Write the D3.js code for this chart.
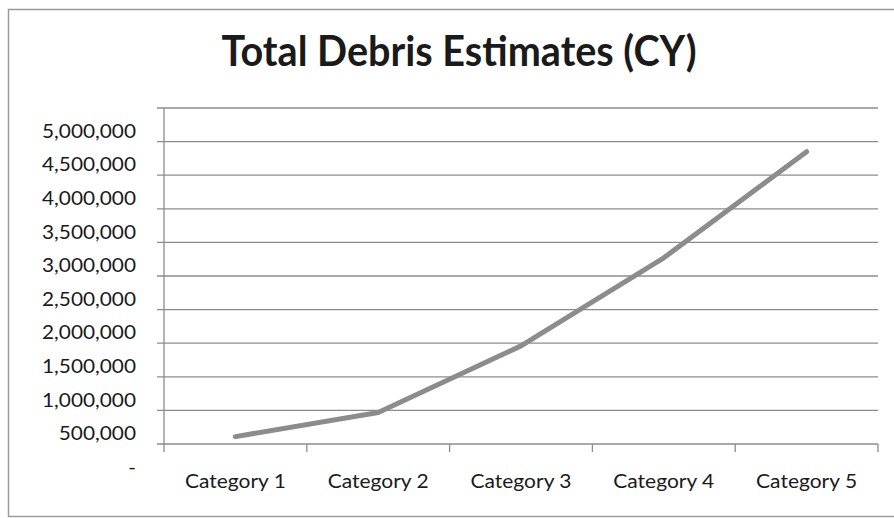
<!DOCTYPE html>
<html>
<head>
<meta charset="utf-8">
<script src="https://cdn.jsdelivr.net/npm/d3@7"></script>
<style>
  html, body { margin: 0; padding: 0; background: #fff; }
  svg { display: block; }
  text { font-family: Lato, "Open Sans", sans-serif; fill: #1a1a1a; }
</style>
</head>
<body>
<svg id="chart" width="894" height="518"></svg>
<script>
const categories = ["Category 1", "Category 2", "Category 3", "Category 4", "Category 5"];
const values = [110000, 470000, 1460000, 2770000, 4350000];
const yTicks = [0, 500000, 1000000, 1500000, 2000000, 2500000, 3000000, 3500000, 4000000, 4500000, 5000000];
const title = "Total Debris Estimates (CY)";

const W = 894, H = 518;
const plot = { left: 164, right: 878, top: 108, bottom: 444 };
const svg = d3.select("#chart");

// squeeze text horizontally to a target width ratio (Calibri-like narrow look)
function squeeze(sel, ratio) {
  sel.each(function () {
    const w = this.getComputedTextLength();
    d3.select(this).attr("textLength", (w * ratio).toFixed(1)).attr("lengthAdjust", "spacingAndGlyphs");
  });
}

// outer border
svg.append("rect")
  .attr("x", 8.5).attr("y", 9.5).attr("width", W).attr("height", 507)
  .attr("fill", "none").attr("stroke", "#9a9a9a").attr("stroke-width", 1.5);

// title
const t = svg.append("text")
  .attr("x", 459).attr("y", 66)
  .attr("text-anchor", "middle")
  .attr("font-weight", "bold")
  .attr("font-size", 42)
  .text(title);
squeeze(t, 475 / t.node().getComputedTextLength());

const x = d3.scaleBand().domain(categories).range([plot.left, plot.right]).padding(0);
const y = d3.scaleLinear().domain([0, 5000000]).range([plot.bottom, plot.top]);

const gridColor = "#8c8c8c";

// gridlines
svg.append("g").selectAll("line").data(yTicks).join("line")
  .attr("x1", plot.left - 7).attr("x2", plot.right)
  .attr("y1", d => y(d)).attr("y2", d => y(d))
  .attr("stroke", gridColor).attr("stroke-width", 1.3);

// y axis line
svg.append("line")
  .attr("x1", plot.left).attr("x2", plot.left)
  .attr("y1", plot.top).attr("y2", plot.bottom + 8)
  .attr("stroke", gridColor).attr("stroke-width", 1.3);

// x axis ticks at category boundaries
const bounds = categories.map(c => x(c)).concat([x(categories[categories.length - 1]) + x.bandwidth()]);
svg.append("g").selectAll("line").data(bounds.slice(1)).join("line")
  .attr("x1", d => d).attr("x2", d => d)
  .attr("y1", plot.bottom).attr("y2", plot.bottom + 8)
  .attr("stroke", gridColor).attr("stroke-width", 1.3);

// y labels (offset down as in the reference)
const fmt = d3.format(",");
const yl = svg.append("g").selectAll("text").data(yTicks).join("text")
  .attr("x", 136).attr("y", d => y(d) + 23)
  .attr("dy", "0.35em")
  .attr("text-anchor", "end")
  .attr("font-size", 19.5)
  .text(d => d === 0 ? "-" : fmt(d));
{
  const ratio = 94 / yl.nodes()[10].getComputedTextLength();
  squeeze(yl, ratio);
}

// x labels
const xl = svg.append("g").selectAll("text").data(categories).join("text")
  .attr("x", d => x(d) + x.bandwidth() / 2).attr("y", 481)
  .attr("dy", "0.35em")
  .attr("text-anchor", "middle")
  .attr("font-size", 19.5)
  .text(d => d);
{
  const ratio = 101 / xl.nodes()[0].getComputedTextLength();
  squeeze(xl, ratio);
}

// line
const line = d3.line()
  .x((d, i) => x(categories[i]) + x.bandwidth() / 2)
  .y(d => y(d));
svg.append("path")
  .datum(values)
  .attr("d", line)
  .attr("fill", "none")
  .attr("stroke", "#8c8c8c")
  .attr("stroke-width", 5)
  .attr("stroke-linecap", "round")
  .attr("stroke-linejoin", "round");
</script>
</body>
</html>
